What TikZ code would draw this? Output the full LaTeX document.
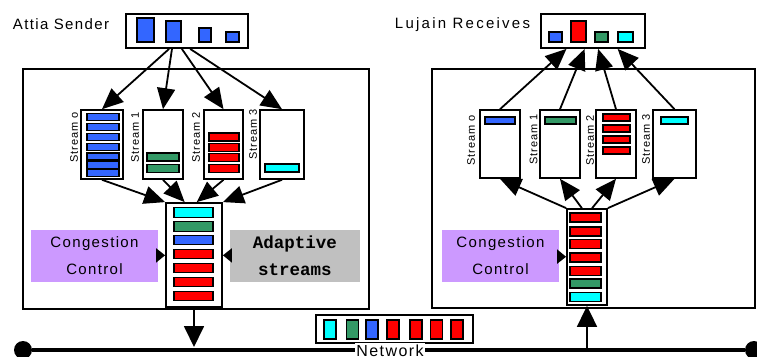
\documentclass[tikz,border=0pt]{standalone}
\usepackage{fontspec}
\setmainfont{Liberation Sans}[LetterSpace=9]
\newfontfamily\codefont{Liberation Mono}
\usetikzlibrary{arrows.meta, positioning}

\definecolor{pktblue}{RGB}{51,102,255}
\definecolor{pktred}{RGB}{255,0,0}
\definecolor{pktgreen}{RGB}{51,153,102}
\definecolor{pktcyan}{RGB}{0,255,255}
\definecolor{cclilac}{RGB}{204,153,255}
\definecolor{adgray}{RGB}{192,192,192}

\begin{document}
\begin{tikzpicture}[x=1pt, y=-1pt,
    host/.style={draw, line width=1.8pt, inner sep=0pt},
    stream/.style={draw, line width=1.6pt, minimum height=69pt, inner sep=0pt},
    pkt/.style={draw, line width=1.3pt, fill=#1, inner sep=0pt},
    lbl/.style={rotate=90, anchor=west, inner sep=0pt, font=\fontsize{11}{13}\selectfont},
    title/.style={inner sep=0pt, font=\fontsize{15}{18}\selectfont},
    ccbox/.style={fill=cclilac, minimum width=#1, minimum height=52pt, inner sep=0pt, align=center, font=\fontsize{15}{27}\selectfont},
    flow/.style={-{Triangle[length=21pt,width=18pt]}, line width=1.8pt},
    cctip/.style={-{Triangle[length=9pt,width=14pt]}, line width=1.8pt},
    tap/.style={-{Triangle[length=21pt,width=20pt]}, line width=1.8pt},
    dot/.style={circle, fill=black, minimum size=18pt, inner sep=0pt}
]
  \useasboundingbox (0,0) rectangle (757,356);

  % the two hosts
  \node[host, minimum width=346pt, minimum height=240pt] (hostL) at (196,189) {};
  \node[host, minimum width=323pt, minimum height=239pt] (hostR) at (593.5,188.5) {};

  % application data at both ends
  \node[title] (sndtxt) at (61,24) {Attia Sender};
  \node[host, minimum width=122pt, minimum height=34pt] (snd) at (187,31) {};
  \node[pkt=pktblue, minimum width=17pt, minimum height=24pt] (m1) at (145.5,30) {};
  \node[pkt=pktblue, minimum width=15pt, minimum height=21pt] (m2) at (173.5,31.5) {};
  \node[pkt=pktblue, minimum width=12pt, minimum height=14pt] (m3) at (205,35) {};
  \node[pkt=pktblue, minimum width=13pt, minimum height=10pt] (m4) at (232.5,37) {};

  \node[title, font=\fontsize{15}{18}\selectfont\addfontfeatures{LetterSpace=15}] (rcvtxt) at (462.5,25) {Lujain Receives};
  \node[host, minimum width=104pt, minimum height=34pt] (rcv) at (593,31) {};
  \node[pkt=pktblue, minimum width=13pt, minimum height=10pt] (n1) at (555.5,37) {};
  \node[pkt=pktred, minimum width=15pt, minimum height=21pt] (n2) at (578.5,31.5) {};
  \node[pkt=pktgreen, minimum width=13pt, minimum height=10pt] (n3) at (601.5,37) {};
  \node[pkt=pktcyan, minimum width=15pt, minimum height=10pt] (n4) at (625.5,37) {};

  % sender streams
  \node[stream, minimum width=42pt] (s0) at (102,144.5) {};
  \node[stream, minimum width=40pt] (s1) at (163,144.5) {};
  \node[stream, minimum width=39pt] (s2) at (223.5,144.5) {};
  \node[stream, minimum width=44pt] (s3) at (282,144.5) {};
  \foreach \y [count=\i] in {117,127,137,147,156.5,165,173}
    \node[pkt=pktblue, minimum width=32pt, minimum height=7pt] (s0p\i) at (103,\y) {};
  \foreach \y [count=\i] in {157,168.5}
    \node[pkt=pktgreen, minimum width=32pt, minimum height=8pt] (s1p\i) at (163,\y) {};
  \foreach \y [count=\i] in {137,147.5,157.5,168.5}
    \node[pkt=pktred, minimum width=30pt, minimum height=8pt] (s2p\i) at (224,\y) {};
  \node[pkt=pktcyan, minimum width=34pt, minimum height=8pt] (s3p1) at (282,168) {};
  \node[lbl] (s0l) at (74,163) {Stream o};
  \node[lbl] (s1l) at (135,163) {Stream 1};
  \node[lbl] (s2l) at (196,163) {Stream 2};
  \node[lbl] (s3l) at (253,160) {Stream 3};

  % sender send queue
  \node[host, minimum width=56pt, minimum height=104pt] (q) at (194,255) {};
  \foreach \y/\c [count=\i] in {212.5/pktcyan,226.5/pktgreen,240/pktblue,254/pktred,268/pktred,282/pktred,296/pktred}
    \node[pkt=\c, minimum width=39pt, minimum height=9.5pt] (qp\i) at (193.5,\y) {};
  \node[ccbox=127pt] (cc1) at (94.5,256) {Congestion\\Control};
  \node[fill=adgray, minimum width=130pt, minimum height=52pt, inner sep=0pt, align=center,
        font=\codefont\bfseries\fontsize{17.5}{27}\selectfont] (ad) at (295,256) {Adaptive\\streams};

  % receiver streams
  \node[stream, minimum width=40pt, minimum height=68pt] (r0) at (500,144) {};
  \node[stream, minimum width=40pt, minimum height=68pt] (r1) at (560,144) {};
  \node[stream, minimum width=40pt, minimum height=68pt] (r2) at (616,144) {};
  \node[stream, minimum width=43pt, minimum height=68pt] (r3) at (674.5,144) {};
  \node[pkt=pktblue, minimum width=30pt, minimum height=7pt] (r0p1) at (500,120.5) {};
  \node[pkt=pktgreen, minimum width=31pt, minimum height=7pt] (r1p1) at (560.5,120.5) {};
  \foreach \y [count=\i] in {117.5,128.5,139.5,150.5}
    \node[pkt=pktred, minimum width=27pt, minimum height=7pt] (r2p\i) at (616.5,\y) {};
  \node[pkt=pktcyan, minimum width=27pt, minimum height=7pt] (r3p1) at (674.5,120.5) {};
  \node[lbl] (r0l) at (471,166) {Stream o};
  \node[lbl] (r1l) at (533.5,165) {Stream 1};
  \node[lbl] (r2l) at (590,166) {Stream 2};
  \node[lbl] (r3l) at (646,165) {Stream 3};

  % receiver queue
  \node[host, minimum width=40pt, minimum height=96pt] (rq) at (587,257) {};
  \foreach \y/\c [count=\i] in {217.5/pktred,231.5/pktred,244/pktred,257.5/pktred,271/pktred,283.5/pktgreen,297/pktcyan}
    \node[pkt=\c, minimum width=31pt, minimum height=9pt] (rqp\i) at (585.5,\y) {};
  \node[ccbox=117pt] (cc2) at (500.5,256) {Congestion\\Control};

  % packets on the wire
  \node[host, minimum width=157pt, minimum height=28pt] (pk) at (394.5,329) {};
  \foreach \x/\c [count=\i] in {330/pktcyan,352.5/pktgreen,372/pktblue,393/pktred,416/pktred,436.5/pktred,457/pktred}
    \node[pkt=\c, minimum width=12pt, minimum height=19pt] (pkp\i) at (\x,329.5) {};

  % network
  \node[dot] (netW) at (23,350) {};
  \node[dot] (netE) at (754,350) {};
  \draw[line width=4.5pt] (netW) -- (netE);
  \node[fill=white, inner sep=1.5pt, anchor=north, font=\fontsize{16}{18}\selectfont] (nettxt) at (390,343) {Network};
  \coordinate (tapL) at (194,347);
  \coordinate (tapR) at (587,348);

  % sender side arrows
  \draw[flow] (snd.225) -- (s0.north);
  \draw[flow] (snd.230) -- (s1.north);
  \draw[flow] (snd.254) -- (s2.north);
  \draw[flow] (snd.280) -- (s3.north);
  \draw[flow] (s0.south) -- (q.north west);
  \draw[flow] (s1.south) -- (q.100);
  \draw[flow] (s2.south) -- (q.87);
  \draw[flow] (s3.south) -- (q.north east);
  \draw[cctip] (cc1) -- (q);
  \draw[cctip] (ad) -- (q);
  \draw[tap] (q) -- (tapL);

  % receiver side arrows
  \draw[tap] (tapR) -- (rq);
  \draw[cctip] (cc2) -- (rq);
  \draw[flow] (rq.north west) -- (r0.south);
  \draw[flow] (rq.96) -- (r1.south);
  \draw[flow] (rq.84) -- (r2.south);
  \draw[flow] (rq.north east) -- (r3.south);
  \draw[flow] (r0.north) -- (rcv.214);
  \draw[flow] (r1.north) -- (rcv.245);
  \draw[flow] (r2.north) -- (rcv.286);
  \draw[flow] (r3.north) -- (rcv.324);
\end{tikzpicture}
\end{document}
